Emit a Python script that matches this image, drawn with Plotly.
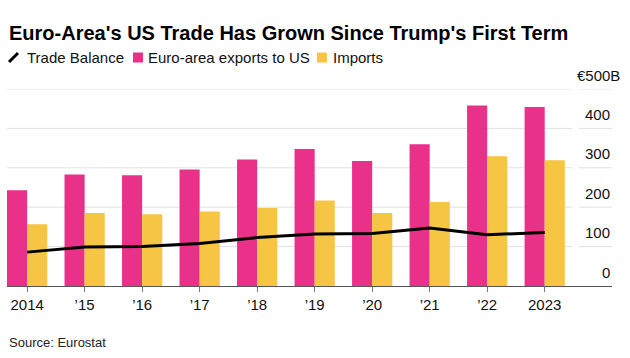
import plotly.graph_objects as go

years = [2014, 2015, 2016, 2017, 2018, 2019, 2020, 2021, 2022, 2023]
year_labels = ["2014", "\u201915", "\u201916", "\u201917", "\u201918", "\u201919", "\u201920", "\u201921", "\u201922", "2023"]
exports_to_us = [243, 283, 281, 296, 321, 348, 317, 360, 458, 454]
imports_from_us = [157, 185, 182, 189, 198, 217, 185, 213, 329, 319]
trade_balance = [86, 99, 100, 108, 123, 132, 133, 147, 130, 136]
y_ticks = [0, 100, 200, 300, 400, 500]
y_tick_labels = ["0", "100", "200", "300", "400", "\u20ac500B"]

PINK = "#EA318A"
YELLOW = "#F6C544"
FONT = "Liberation Sans"

W, H = 630, 358
L, R, T, B = 7, 18, 89, 72
plot_h = H - T - B
plot_w = W - L - R


def py(p):
    return (H - B - p) / plot_h


def px(p):
    return (p - L) / plot_w


fig = go.Figure()
fig.add_trace(go.Bar(x=years, y=exports_to_us, marker=dict(color=PINK, line=dict(width=0)),
                     name="Euro-area exports to US", showlegend=False))
fig.add_trace(go.Bar(x=years, y=imports_from_us, marker=dict(color=YELLOW, line=dict(width=0)),
                     name="Imports", showlegend=False))
fig.add_trace(go.Scatter(x=years, y=trade_balance, mode="lines", line=dict(color="black", width=3),
                         name="Trade Balance", showlegend=False))

shapes = []
for v in y_ticks[1:]:
    shapes.append(dict(type="line", xref="paper", yref="y", x0=0, x1=px(572), y0=v, y1=v,
                       line=dict(color="#e1e1e1", width=1), layer="below"))
    shapes.append(dict(type="line", xref="paper", yref="y", x0=px(579), x1=1, y0=v, y1=v,
                       line=dict(color="#e1e1e1", width=1), layer="below"))

# legend icons
shapes.append(dict(type="line", xref="paper", yref="paper", x0=px(9), x1=px(18), y0=py(62), y1=py(53),
                   line=dict(color="black", width=3)))
shapes.append(dict(type="rect", xref="paper", yref="paper", x0=px(133), x1=px(143), y0=py(62.5), y1=py(52.5),
                   fillcolor=PINK, line=dict(width=0)))
shapes.append(dict(type="rect", xref="paper", yref="paper", x0=px(317), x1=px(327), y0=py(62.5), y1=py(52.5),
                   fillcolor=YELLOW, line=dict(width=0)))

annotations = []
for v, t in zip(y_ticks, y_tick_labels):
    annotations.append(dict(x=1, xref="paper", y=v, yref="y", text=t, showarrow=False,
                            xanchor="right", yanchor="middle", yshift=14,
                            xshift=10 if t.endswith("B") else 0,
                            font=dict(family=FONT, size=15, color="#111")))

annotations.append(dict(x=px(7), y=py(33), xref="paper", yref="paper", text="<b>Euro-Area's US Trade Has Grown Since Trump's First Term</b>",
                        showarrow=False, xanchor="left", yanchor="middle",
                        font=dict(family=FONT, size=20, color="black")))
for x0, t in [(25, "Trade Balance"), (146, "Euro-area exports to US"), (331, "Imports")]:
    annotations.append(dict(x=px(x0), y=py(57.5), xref="paper", yref="paper", text=t, showarrow=False,
                            xanchor="left", yanchor="middle", font=dict(family=FONT, size=15, color="#111")))
annotations.append(dict(x=px(7), y=py(342), xref="paper", yref="paper", text="Source: Eurostat", showarrow=False,
                        xanchor="left", yanchor="middle", font=dict(family=FONT, size=13, color="#222")))

fig.update_layout(
    width=W, height=H,
    margin=dict(l=L, r=R, t=T, b=B),
    paper_bgcolor="white", plot_bgcolor="white",
    barmode="group", bargap=0.3, bargroupgap=0,
    showlegend=False,
    shapes=shapes, annotations=annotations,
    xaxis=dict(range=[2013.65, 2024.17], tickvals=years, ticktext=year_labels,
               showgrid=False, zeroline=False, showline=True, linecolor="#555", linewidth=1,
               ticks="outside", ticklen=5, tickcolor="#777", tickwidth=1,
               tickfont=dict(family=FONT, size=15, color="#111"), fixedrange=True),
    yaxis=dict(range=[0, 500], showgrid=False, zeroline=False, showticklabels=False,
               showline=False, fixedrange=True),
    font=dict(family=FONT),
)

fig.write_html("out.html", config={"displayModeBar": False},
               post_script="document.body.style.margin='0';document.body.style.overflow='hidden';")
